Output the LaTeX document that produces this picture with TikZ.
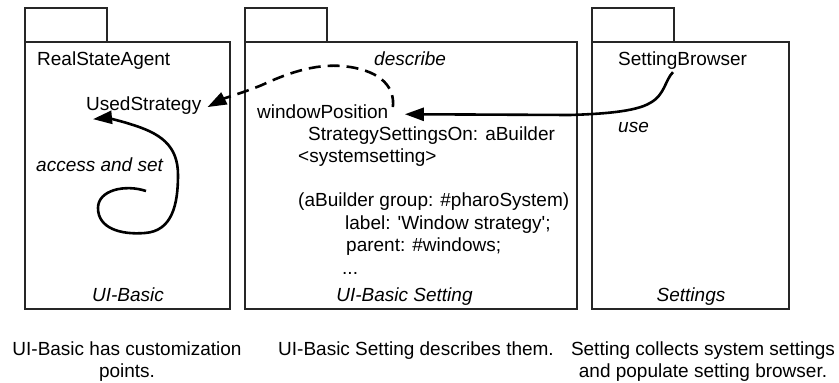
\documentclass[tikz,border=0pt]{standalone}
\usepackage{fontspec}
\newfontfamily\lsans{Liberation Sans}
\usetikzlibrary{arrows.meta}
\tikzset{
  pkg/.style={draw=black!85, line width=1.3pt},
  txt/.style={inner sep=0pt, anchor=base west, font=\lsans\fontsize{19}{22}\selectfont},
  itxt/.style={txt, font=\lsans\itshape\fontsize{19}{22}\selectfont},
  captext/.style={inner sep=0pt, anchor=base, align=center, font=\lsans\fontsize{19}{22}\selectfont},
  flow/.style={line width=2.6pt, black, -{Triangle[length=19pt,width=13pt]}},
  dflow/.style={flow, dash pattern=on 12pt off 7pt},
}
\begin{document}
\begin{tikzpicture}[x=1pt,y=-1pt]
\useasboundingbox (0,0) rectangle (839,383);
% packages
\draw[pkg] (25,8) rectangle (107,42);
\draw[pkg] (25,42) rectangle (230,309);
\draw[pkg] (245,8) rectangle (327,42);
\draw[pkg] (245,42) rectangle (577,309);
\draw[pkg] (592,8) rectangle (674,42);
\draw[pkg] (592,42) rectangle (789,309);
% UI-Basic
\node[txt] (rsa) at (37,65.7) {RealStateAgent};
\node[txt] (us) at (86,110) {UsedStrategy};
\node[itxt] (acc) at (36,171) {access and set};
\node[itxt, anchor=base] (uib) at (128,301) {UI-Basic};
% UI-Basic Setting
\node[itxt] (desc) at (374,65) {describe};
\node[txt] (wp) at (257,118) {windowPosition};
\node[txt] (l2) at (308,140) {StrategySettingsOn: aBuilder};
\node[txt] (l3) at (298,162) {<systemsetting>};
\node[txt] (l4) at (298,206) {(aBuilder group: \#pharoSystem)};
\node[txt] (l5) at (345,229) {label: 'Window strategy';};
\node[txt] (l6) at (346,251) {parent: \#windows;};
\node[txt] (l7) at (342,274) {...};
\node[itxt, anchor=base] (uibs) at (404.5,301) {UI-Basic Setting};
% Settings
\node[txt] (sb) at (618,65) {SettingBrowser};
\node[itxt] (use) at (618,132) {use};
\node[itxt, anchor=base] (set) at (691,301) {Settings};
% captions
\node[captext] (c1) at (127,377) {UI-Basic has customization\\points.};
\node[captext] (c2) at (416,355) {UI-Basic Setting describes them.};
\node[captext] (c3) at (703,377) {Setting collects system settings\\and populate setting browser.};
% connectors
\coordinate (dstart) at ([xshift=4.5pt,yshift=-3pt]wp.north east);
\coordinate (usTip) at ([xshift=6pt,yshift=-2pt]us.east);
\draw[dflow] (dstart) .. controls (395,88) and (382,72) .. (350,67)
  .. controls (320,62) and (290,72) .. (262,85)
  .. controls (245,92) and (225,98) .. (usTip);
\coordinate (accStart) at (146,191);
\coordinate (usTip2) at ([xshift=7pt,yshift=-5pt]us.south west);
\draw[flow] (accStart) .. controls (125,184) and (98,190) .. (98,208)
  .. controls (98,228) and (120,235) .. (145,233)
  .. controls (172,231) and (178,205) .. (178,175)
  .. controls (178,145) and (160,133) .. (130,124)
  .. controls (118,120) and (105,118) .. (usTip2);
\coordinate (sbStart) at ([xshift=55pt,yshift=-3pt]sb.south west);
\coordinate (wpTip) at ([xshift=16.5pt,yshift=-3pt]wp.east);
\draw[flow] (sbStart) .. controls (665,80) and (665,95) .. (650,103)
  .. controls (635,112) and (600,114) .. (570,115) -- (wpTip);
\end{tikzpicture}
\end{document}
